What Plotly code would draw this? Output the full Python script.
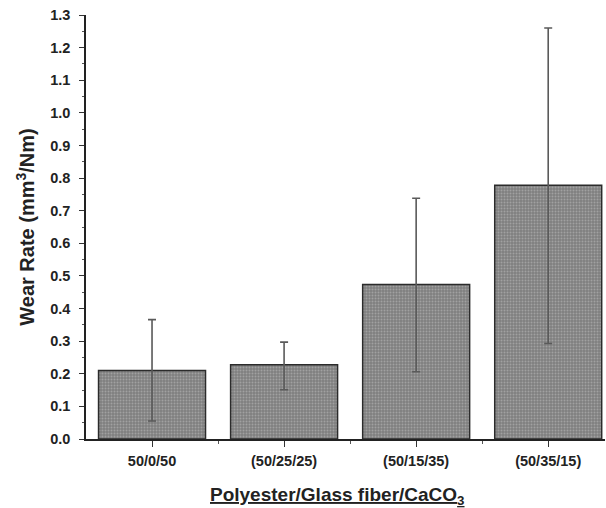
import plotly.graph_objects as go

categories = ["50/0/50", "(50/25/25)", "(50/15/35)", "(50/35/15)"]
wear_rate = [0.21, 0.228, 0.474, 0.778]
err_plus = [0.156, 0.069, 0.264, 0.482]
err_minus = [0.155, 0.077, 0.268, 0.485]
y_ticks = [round(0.1 * i, 1) for i in range(14)]

xpos = list(range(len(categories)))

fig = go.Figure()
fig.add_trace(go.Bar(
    x=xpos, y=wear_rate, width=0.81,
    marker=dict(color="#8c8c8c", line=dict(color="#2b2b2b", width=1.5),
                pattern=dict(shape=".", bgcolor="#7f7f7f", fgcolor="#c4c4c4", size=3, solidity=0.35)),
    error_y=dict(type="data", symmetric=False, array=err_plus, arrayminus=err_minus,
                 color="#5a5a5a", thickness=1.6, width=4),
    showlegend=False,
))

font_family = "Liberation Sans, Arial, sans-serif"
fig.update_layout(
    width=606, height=508,
    margin=dict(l=86, r=1, t=15, b=69),
    paper_bgcolor="white", plot_bgcolor="white",
    font=dict(family=font_family, color="#222222"),
    xaxis=dict(range=[-0.5, 3.43], tickmode="array", tickvals=xpos,
               ticktext=["<b>%s</b>" % c for c in categories],
               tickfont=dict(size=14.5), ticks="outside", ticklen=6, tickwidth=1.3,
               tickcolor="#333", showline=True, linecolor="#222", linewidth=1.5,
               showgrid=False, zeroline=False, ticklabelstandoff=2,
               minor=dict(tickmode="array", tickvals=[0.5, 1.5, 2.5], ticks="outside",
                          ticklen=3, tickcolor="#555")),
    yaxis=dict(range=[0, 1.3], tickmode="array", tickvals=y_ticks,
               ticktext=["<b>%.1f</b>" % v for v in y_ticks],
               tickfont=dict(size=14.5), ticks="outside", ticklen=5, tickwidth=1.3,
               tickcolor="#333", showline=True, linecolor="#222", linewidth=1.5,
               showgrid=False, zeroline=False, ticklabelstandoff=6,
               title=dict(text="<b>Wear Rate (mm<sup>3</sup>/Nm)</b>", font=dict(size=20), standoff=10),
               minor=dict(dtick=0.05, ticks="outside", ticklen=2.5, tickcolor="#555")),
    annotations=[dict(text="<b><u>Polyester/Glass fiber/CaCO<sub>3</sub></u></b>",
                      xref="paper", yref="paper", x=0.485, y=-0.135, yanchor="middle",
                      showarrow=False, font=dict(size=19, family=font_family, color="#222"))],
)

fig.write_html("out.html")
